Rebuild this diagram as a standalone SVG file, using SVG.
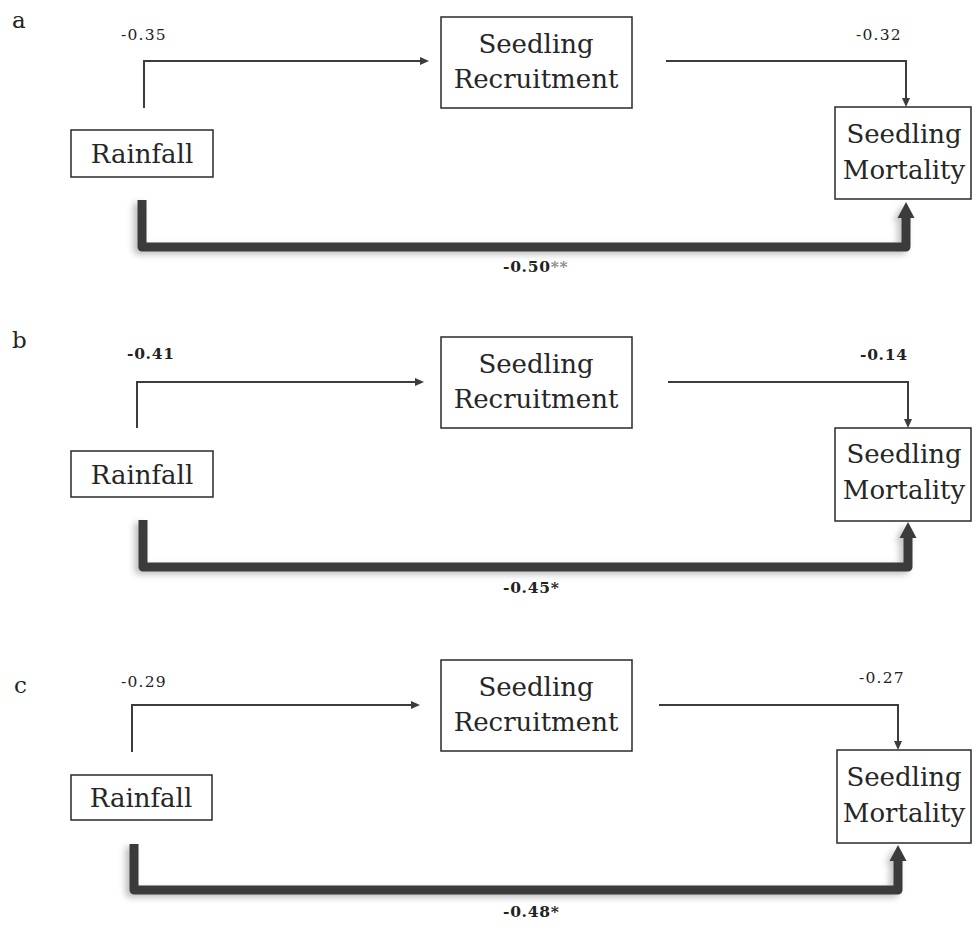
<svg xmlns="http://www.w3.org/2000/svg" width="972" height="926" viewBox="0 0 972 926">
<style>
.box{fill:#fff;stroke:#2a2a2a;stroke-width:1.5}
.nt{font-family:"DejaVu Serif","Liberation Serif",serif;font-size:26px;fill:#262626;text-anchor:middle}
.pl{font-family:"DejaVu Serif","Liberation Serif",serif;font-size:23px;fill:#222}
.num{font-family:"DejaVu Serif","Liberation Serif",serif;font-size:15.5px;fill:#222;letter-spacing:1.2px}
.bnum{font-family:"DejaVu Serif","Liberation Serif",serif;font-size:15.5px;font-weight:bold;fill:#222;letter-spacing:0.7px}
.star{fill:#8a8a8a}
.thin{fill:none;stroke:#3c3c3c;stroke-width:2}
.thick{fill:none;stroke:#3b3b3b;stroke-width:9;stroke-linejoin:round}
</style>
<defs>
<marker id="ah" viewBox="0 -4.5 9 9" refX="0" refY="0" markerWidth="9" markerHeight="9" markerUnits="userSpaceOnUse" orient="auto">
<path d="M0,-4 L9,0 L0,4 Z" fill="#3c3c3c"/>
</marker>
<marker id="ahb" viewBox="0 -9 17 18" refX="0" refY="0" markerWidth="17" markerHeight="18" markerUnits="userSpaceOnUse" orient="auto">
<path d="M0,-8.5 L16,0 L0,8.5 Z" fill="#3b3b3b"/>
</marker>
<filter id="sh" x="-10%" y="-30%" width="120%" height="160%">
<feDropShadow dx="-4" dy="3" stdDeviation="3" flood-color="#000" flood-opacity="0.25"/>
</filter>
</defs>

<g id="panel-labels">
<text class="pl" x="12" y="28">a</text>
<text class="pl" x="12" y="348">b</text>
<text class="pl" x="14" y="693">c</text>
</g>

<g id="connectors">
<!-- panel a -->
<path class="thin" d="M144,108 V61 H420" marker-end="url(#ah)"/>
<path class="thin" d="M666,61 H906 V98" marker-end="url(#ah)"/>
<g filter="url(#sh)"><path class="thick" d="M142,200 V247 H906 V218" marker-end="url(#ahb)"/></g>
<!-- panel b -->
<path class="thin" d="M137,428 V382 H415" marker-end="url(#ah)"/>
<path class="thin" d="M668,382 H908 V419" marker-end="url(#ah)"/>
<g filter="url(#sh)"><path class="thick" d="M143,520 V567 H908 V538" marker-end="url(#ahb)"/></g>
<!-- panel c -->
<path class="thin" d="M132,752 V705 H411" marker-end="url(#ah)"/>
<path class="thin" d="M659,705 H898 V741" marker-end="url(#ah)"/>
<g filter="url(#sh)"><path class="thick" d="M134,844 V890 H898 V861" marker-end="url(#ahb)"/></g>
</g>

<g id="edge-labels">
<text class="num" x="121" y="40">-0.35</text>
<text class="num" x="856" y="40">-0.32</text>
<text class="bnum" x="503" y="272">-0.50<tspan class="star">**</tspan></text>
<text class="bnum" x="127" y="359">-0.41</text>
<text class="bnum" x="860" y="360">-0.14</text>
<text class="bnum" x="503" y="593">-0.45*</text>
<text class="num" x="121" y="687">-0.29</text>
<text class="num" x="859" y="683">-0.27</text>
<text class="bnum" x="503" y="917">-0.48*</text>
</g>

<g id="a-rainfall">
<rect class="box" x="71" y="130" width="142" height="47"/>
<text class="nt" x="142" y="163">Rainfall</text>
</g>
<g id="a-recruitment">
<rect class="box" x="441" y="17" width="191" height="91"/>
<text class="nt" x="536" y="53">Seedling</text>
<text class="nt" x="536" y="88">Recruitment</text>
</g>
<g id="a-mortality">
<rect class="box" x="835" y="107" width="136" height="92"/>
<text class="nt" x="904" y="143">Seedling</text>
<text class="nt" x="904" y="179">Mortality</text>
</g>

<g id="b-rainfall">
<rect class="box" x="71" y="451" width="142" height="46"/>
<text class="nt" x="142" y="484">Rainfall</text>
</g>
<g id="b-recruitment">
<rect class="box" x="441" y="337" width="191" height="91"/>
<text class="nt" x="536" y="373">Seedling</text>
<text class="nt" x="536" y="408">Recruitment</text>
</g>
<g id="b-mortality">
<rect class="box" x="835" y="428" width="136" height="93"/>
<text class="nt" x="904" y="463">Seedling</text>
<text class="nt" x="904" y="499">Mortality</text>
</g>

<g id="c-rainfall">
<rect class="box" x="71" y="775" width="141" height="45"/>
<text class="nt" x="141" y="807">Rainfall</text>
</g>
<g id="c-recruitment">
<rect class="box" x="441" y="660" width="191" height="91"/>
<text class="nt" x="536" y="696">Seedling</text>
<text class="nt" x="536" y="731">Recruitment</text>
</g>
<g id="c-mortality">
<rect class="box" x="837" y="750" width="134" height="93"/>
<text class="nt" x="904" y="786">Seedling</text>
<text class="nt" x="904" y="822">Mortality</text>
</g>
</svg>
